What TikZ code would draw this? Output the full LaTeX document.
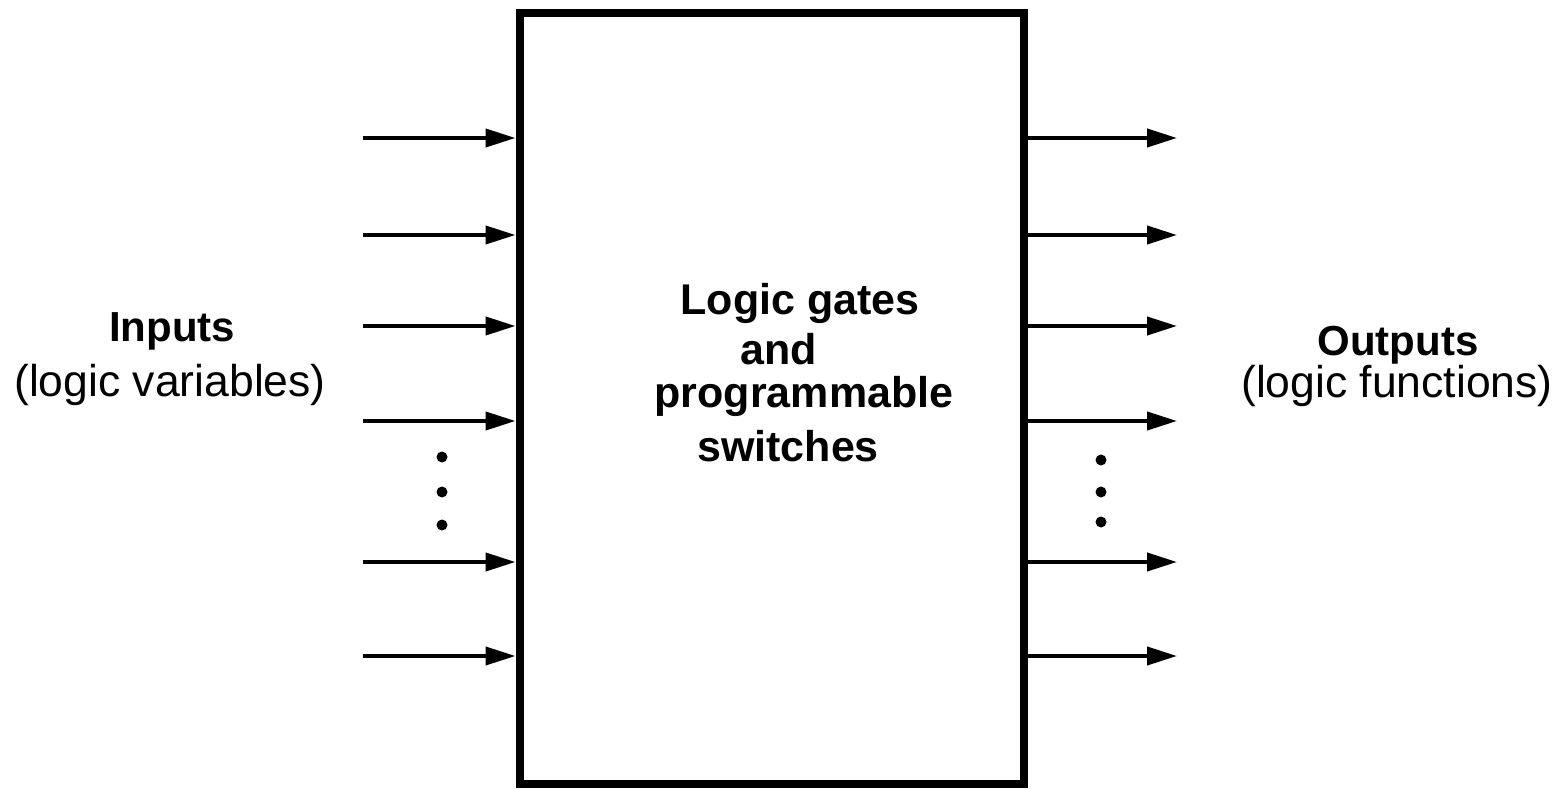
\documentclass[tikz,border=0pt]{standalone}
\usepackage{fontspec}
\setmainfont{Liberation Sans}
\usetikzlibrary{arrows.meta}
\begin{document}
\begin{tikzpicture}[x=1pt,y=1pt,
  boxstyle/.style={draw,line width=8pt,minimum width=504.5pt,minimum height=771pt,inner sep=0pt},
  sig/.style={line width=4pt,-{Triangle[length=30pt,width=18pt]}},
  dotmark/.style={fill=black,circle,inner sep=0pt,minimum size=11pt},
  boldlbl/.style={font=\fontsize{43}{50}\selectfont\bfseries,inner sep=0pt},
  sidebold/.style={font=\fontsize{42}{50}\selectfont\bfseries,inner sep=0pt,anchor=base},
  reglbl/.style={font=\fontsize{44.5}{52}\selectfont,inner sep=0pt,anchor=base}]
\useasboundingbox (0,0) rectangle (1566,788);
\node[boxstyle] (box) at (771.75,389.5) {};
\foreach \i/\y in {1/138,2/235,3/326,4/421,5/562,6/656}{
  \coordinate (in\i) at (363,788-\y);
  \coordinate (out\i) at (1177,788-\y);
}
\foreach \i in {1,...,6}{
  \draw[sig] (in\i) -- (in\i -| box.west);
  \draw[sig] (out\i -| box.east) -- (out\i);
}
\node[dotmark] (ld1) at (442,788-457) {};
\node[dotmark] (ld2) at (442,788-492) {};
\node[dotmark] (ld3) at (442,788-525) {};
\node[dotmark] (rd1) at (1101,788-460) {};
\node[dotmark] (rd2) at (1101,788-492) {};
\node[dotmark] (rd3) at (1101,788-522) {};
\node[sidebold] (inl) at (172,788-342) {Inputs};
\node[reglbl] (inv) at (170,788-397) {(logic variables)};
\node[sidebold] (outl) at (1398,788-356) {Outputs};
\node[reglbl] (outf) at (1397,788-398) {(logic functions)};
\node[boldlbl] (c1) at (800,788-303) {Logic gates};
\node[boldlbl] (c2) at (779,788-349) {and};
\node[boldlbl] (c3) at (804,788-396) {programmable};
\node[boldlbl] (c4) at (788,788-446) {switches};
\end{tikzpicture}
\end{document}
